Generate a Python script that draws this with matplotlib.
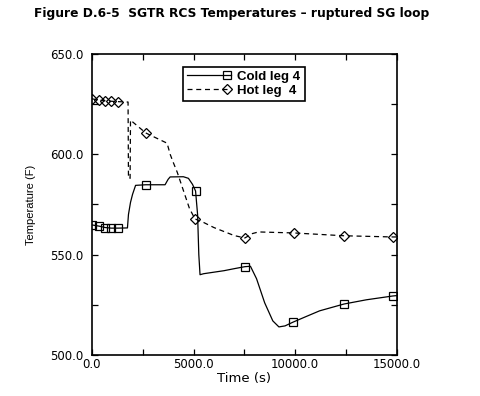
#!/usr/bin/env python
import matplotlib
matplotlib.use("Agg")
import matplotlib.pyplot as plt
from matplotlib.legend_handler import HandlerLine2DCompound
from matplotlib.ticker import MultipleLocator, FormatStrFormatter

plt.rcParams['font.family'] = ['DejaVu Sans']

title = "Figure D.6-5  SGTR RCS Temperatures \u2013 ruptured SG loop"

# cold leg 4 (time s, temperature F)
cold_t = [0, 350, 650, 950, 1280, 1750, 1800, 1900, 2000, 2150, 2650, 3600,
          3750, 3850, 4500, 4750, 4950, 5100, 5200, 5260, 5320, 5500, 6500,
          7000, 7525, 7800, 8100, 8500, 8900, 9200, 9500, 9900, 10500, 11200,
          12400, 13500, 14800, 15000]
cold_T = [564.8, 564.2, 563.5, 563.2, 563.2, 563.3, 570.0, 576.0, 580.0, 584.5,
          584.8, 584.8, 587.5, 588.7, 588.8, 588.0, 585.0, 581.7, 570.0, 550.0,
          540.0, 540.5, 542.0, 543.0, 544.0, 544.2, 538.0, 526.0, 517.0, 514.0,
          514.5, 516.4, 519.0, 522.0, 525.4, 527.5, 529.4, 529.6]
cold_marks = [0, 350, 650, 950, 1280, 2650, 5100, 7525, 9900, 12400, 14800]

# hot leg 4
hot_t = [0, 350, 650, 950, 1280, 1780, 1800, 1880, 1900, 2650, 3700, 3850,
         4000, 4200, 4500, 4800, 5070, 5500, 6000, 6500, 7000, 7525, 7900,
         8200, 9930, 12390, 14800, 15000]
hot_T = [627.6, 627.0, 626.6, 626.4, 626.2, 626.0, 588.0, 588.0, 617.0, 610.6,
         605.5, 600.0, 596.0, 591.0, 582.0, 573.0, 567.8, 566.0, 563.5, 561.5,
         559.5, 558.3, 560.5, 561.3, 560.8, 559.4, 558.8, 558.8]
hot_marks = [0, 350, 650, 950, 1280, 2650, 5070, 7525, 9930, 12390, 14800]


class HandlerEndMarker(HandlerLine2DCompound):
    # legend handle with the marker at the right end of the line
    def get_xdata(self, legend, xdescent, ydescent, width, height, fontsize):
        xdata = [-xdescent, -xdescent + width]
        return xdata, [-xdescent + width - 3]


fig = plt.figure(figsize=(4.81, 3.96), dpi=100)
ax = fig.add_axes([0.191, 0.1035, 0.634, 0.7605])

ax.plot(cold_t, cold_T, '-', color='black', lw=0.9, marker='s', ms=6,
        mfc='none', mec='black', mew=0.9,
        markevery=[cold_t.index(t) for t in cold_marks], label='Cold leg 4')
ax.plot(hot_t, hot_T, '--', color='black', lw=0.9, dashes=(4, 3), marker='D',
        ms=5, mfc='none', mec='black', mew=0.9,
        markevery=[hot_t.index(t) for t in hot_marks], label='Hot leg  4')

ax.set_xlim(0, 15000)
ax.set_ylim(500, 650)
ax.xaxis.set_major_locator(MultipleLocator(5000))
ax.xaxis.set_minor_locator(MultipleLocator(2500))
ax.yaxis.set_major_locator(MultipleLocator(50))
ax.yaxis.set_minor_locator(MultipleLocator(25))
ax.xaxis.set_major_formatter(FormatStrFormatter('%.1f'))
ax.yaxis.set_major_formatter(FormatStrFormatter('%.1f'))
ax.tick_params(which='both', direction='in', top=True, right=True,
               width=0.9, length=4, labelsize=8.5)
ax.tick_params(axis='x', pad=2)
ax.tick_params(axis='y', pad=6)
for sp in ax.spines.values():
    sp.set_linewidth(1.2)

ax.set_xlabel('Time (s)', fontsize=9.5, labelpad=1)
ax.set_ylabel('Temperature (F)', fontsize=8, family='Liberation Sans',
              labelpad=10)

leg = ax.legend(loc='upper left', bbox_to_anchor=(0.3, 0.957), fancybox=False,
                edgecolor='black', framealpha=1, handlelength=3.3,
                handletextpad=0.5, borderpad=0.3, labelspacing=0.1,
                borderaxespad=0,
                prop={'weight': 'bold', 'size': 9.5, 'family': 'Liberation Sans'},
                handler_map={plt.Line2D: HandlerEndMarker()})
leg.get_frame().set_linewidth(1.2)

fig.text(0.482, 0.965, title, ha='center', va='center', fontsize=8.8,
         fontweight='bold')

fig.savefig('out.png', dpi=100)
